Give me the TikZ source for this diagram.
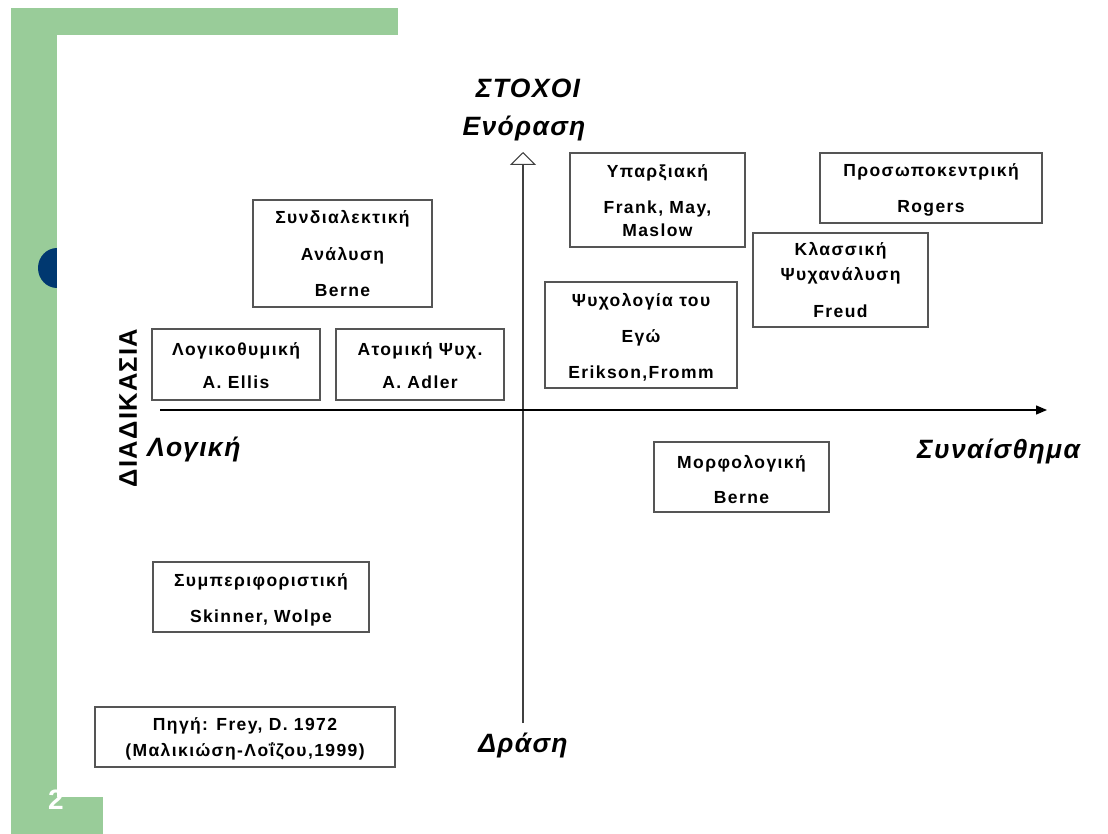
\documentclass[tikz,border=0pt]{standalone}
\usepackage{fontspec}
\setmainfont{Liberation Sans}
\newfontfamily\boxfont[LetterSpace=8]{Liberation Sans}
\newfontfamily\axfont[LetterSpace=5]{Liberation Sans}
\usetikzlibrary{arrows.meta}
\definecolor{grn}{RGB}{153,204,153}
\definecolor{navy}{RGB}{0,56,112}
\definecolor{frame}{RGB}{85,85,85}
\begin{document}
\begin{tikzpicture}[x=1pt,y=-1pt,
  bx/.style={draw=frame,line width=1.3pt,fill=white},
  txt/.style={anchor=base,inner sep=0pt,font=\boxfont\bfseries\fontsize{17.5}{19}\selectfont},
  axl/.style={inner sep=0pt,font=\axfont\bfseries\itshape\fontsize{26.5}{28}\selectfont}]
\useasboundingbox (0,0) rectangle (1108,834);
% decoration
\fill[grn] (11,8) rectangle (398,35);
\fill[grn] (11,8) rectangle (57,834);
\fill[navy] (57,268) ellipse [x radius=19, y radius=20];
\fill[white] (57,35) rectangle (1108,834);
\fill[grn] (11,797) rectangle (103,834);
\node[inner sep=0pt,text=white,font=\bfseries\fontsize{28}{30}\selectfont] (pg) at (56,800) {2};
% axes
\coordinate (vb) at (523,723);
\coordinate (vt) at (523,152);
\coordinate (hl) at (160,410);
\coordinate (hr) at (1047,410);
\draw[black!75,line width=1.2pt,-{Triangle[length=13pt,width=26pt,fill=white,line width=1pt]}] (vb) -- (vt);
\draw[black,line width=1.4pt,-{Triangle[length=11pt,width=9pt]}] (hl) -- (hr);
% axis labels
\node[axl] (st) at (528,88) {ΣΤΟΧΟΙ};
\node[axl] (en) at (524,128) {Ενόραση};
\node[axl,anchor=west] (lo) at (147,449) {Λογική};
\node[axl,anchor=west] (sy) at (917,451) {Συναίσθημα};
\node[axl] (dr) at (523,745) {Δράση};
\node[inner sep=0pt,rotate=90,font=\axfont\bfseries\fontsize{25.5}{27}\selectfont] (dk) at (128,408) {ΔΙΑΔΙΚΑΣΙΑ};
% boxes
\node[bx,minimum width=179pt,minimum height=107pt] (b1) at (342.5,253.5) {};
\node[txt] at (342.5,224) {Συνδιαλεκτική};
\node[txt] at (342.5,261) {Ανάλυση};
\node[txt] at (342.5,297) {Berne};
\node[bx,minimum width=168pt,minimum height=71pt] (b2) at (236,364.5) {};
\node[txt] at (236,355) {Λογικοθυμική};
\node[txt] at (236,388) {A. Ellis};
\node[bx,minimum width=168pt,minimum height=71pt] (b3) at (420,364.5) {};
\node[txt] at (420,355) {Ατομική Ψυχ.};
\node[txt] at (420,388) {A. Adler};
\node[bx,minimum width=175pt,minimum height=94pt] (b4) at (657.5,200) {};
\node[txt] at (657.5,178) {Υπαρξιακή};
\node[txt] at (657.5,214) {Frank, May,};
\node[txt] at (657.5,237) {Maslow};
\node[bx,minimum width=222pt,minimum height=70pt] (b5) at (931,188) {};
\node[txt] at (931,177) {Προσωποκεντρική};
\node[txt] at (931,213) {Rogers};
\node[bx,minimum width=175pt,minimum height=94pt] (b6) at (840.5,280) {};
\node[txt] at (840.5,256) {Κλασσική};
\node[txt] at (840.5,281) {Ψυχανάλυση};
\node[txt] at (840.5,317) {Freud};
\node[bx,minimum width=192pt,minimum height=106pt] (b7) at (641,335) {};
\node[txt] at (641,306) {Ψυχολογία του};
\node[txt] at (641,342) {Εγώ};
\node[txt] at (641,378) {Erikson,Fromm};
\node[bx,minimum width=175pt,minimum height=70pt] (b8) at (741.5,477) {};
\node[txt] at (741.5,468) {Μορφολογική};
\node[txt] at (741.5,503) {Berne};
\node[bx,minimum width=216pt,minimum height=70pt] (b9) at (261,597) {};
\node[txt] at (261,586) {Συμπεριφοριστική};
\node[txt] at (261,622) {Skinner, Wolpe};
\node[bx,minimum width=300pt,minimum height=60pt] (b10) at (245,737) {};
\node[txt] at (245,730) {Πηγή: Frey, D. 1972};
\node[txt] at (245,756) {(Μαλικιώση-Λοΐζου,1999)};
\end{tikzpicture}
\end{document}
